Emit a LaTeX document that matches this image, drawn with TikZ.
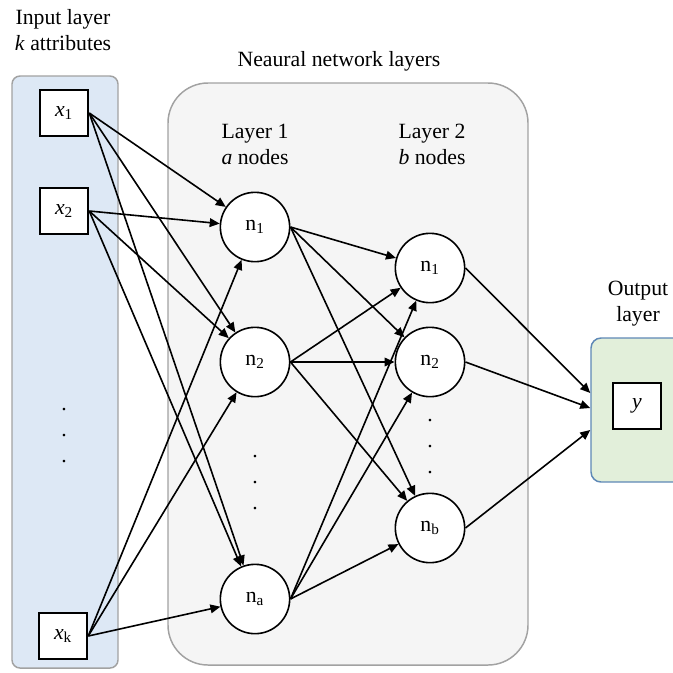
\documentclass[tikz,border=0pt]{standalone}
\usepackage{fontspec}
\setmainfont{Liberation Serif}
\usetikzlibrary{arrows.meta, positioning, fit}

\definecolor{inputblue}{HTML}{DDE8F5}
\definecolor{layergray}{HTML}{F5F5F5}
\definecolor{outgreen}{HTML}{E2EFDA}
\definecolor{outblue}{HTML}{5E88B6}
\definecolor{edgegray}{HTML}{A2A2A2}

\begin{document}
\begin{tikzpicture}[
x=0.75pt, y=-0.75pt,
font=\fontsize{16.3}{19.5}\selectfont,
panel/.style={
    draw=edgegray,
    line width=1.1pt
},
attr/.style={
    draw,
    rectangle,
    fill=white,
    line width=1.4pt,
    inner sep=0pt,
    minimum width=36.5pt,
    minimum height=34.5pt
},
neuron/.style={
    draw,
    circle,
    fill=white,
    line width=1.2pt,
    inner sep=0pt,
    minimum size=52pt
},
caption/.style={align=center},
vdots/.style={align=center, inner sep=0pt},
arrow/.style={-{Triangle[length=7.5pt, width=6.5pt]}, line width=1.2pt}
]
\useasboundingbox (0,0) rectangle (673,672);

% Panels
\node[panel, fill=inputblue, rounded corners=6pt,
    minimum width=79.5pt, minimum height=444pt] (inpanel) at (65,372) {};
\node[panel, fill=layergray, rounded corners=30pt,
    minimum width=270pt, minimum height=436.5pt] (nnpanel) at (348,374) {};
\node[panel, draw=outblue, fill=outgreen, rounded corners=7.5pt,
    minimum width=69.75pt, minimum height=108pt] (outpanel) at (637.5,410) {};

% Titles
\node[caption] (inlabel) at (63,30) {Input layer\\\textit{k} attributes};
\node[caption] (nnlabel) at (339,61) {Neaural network layers};
\node[caption] (l1label) at (255,144) {Layer 1\\\textit{a} nodes};
\node[caption] (l2label) at (432,144) {Layer 2\\\textit{b} nodes};
\node[caption] (outlabel) at (638,304) {Output\\layer};

% Input layer
\node[attr] (x1) at (64,113) {\textit{x}\textsubscript{1}};
\node[attr] (x2) at (64,211) {\textit{x}\textsubscript{2}};
\node[attr] (xk) at (63,636) {\textit{x}\textsubscript{k}};
\node[vdots] (xdots) at (64,436) {.\\.\\.};

% Layer 1
\node[neuron] (l1n1) at (255,227) {n\textsubscript{1}};
\node[neuron] (l1n2) at (255,362) {n\textsubscript{2}};
\node[neuron] (l1na) at (255,599) {n\textsubscript{a}};
\node[vdots] (l1dots) at (255,483) {.\\.\\.};

% Layer 2
\node[neuron] (l2n1) at (430,268) {n\textsubscript{1}};
\node[neuron] (l2n2) at (430,362) {n\textsubscript{2}};
\node[neuron] (l2nb) at (430,528) {n\textsubscript{b}};
\node[vdots] (l2dots) at (430,447) {.\\.\\.};

% Output
\node[attr] (y) at (637,406) {\textit{y}};

% Arrows
\foreach \src in {x1,x2,xk}
    \foreach \dst in {l1n1,l1n2,l1na}
        \draw[arrow] (\src.east) -- (\dst);
\foreach \src in {l1n1,l1n2,l1na}
    \foreach \dst in {l2n1,l2n2,l2nb}
        \draw[arrow] (\src.east) -- (\dst);
\draw[arrow] (l2n1.east) -- ([yshift=12.75pt]outpanel.west);
\draw[arrow] (l2n2.east) -- ([yshift=1.5pt]outpanel.west);
\draw[arrow] (l2nb.east) -- ([yshift=-15pt]outpanel.west);

\end{tikzpicture}
\end{document}
